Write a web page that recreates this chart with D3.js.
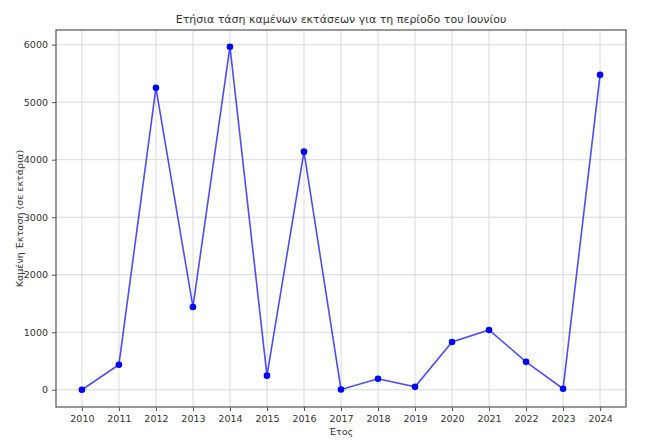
<!DOCTYPE html>
<html>
<head>
<meta charset="utf-8">
<script src="https://cdn.jsdelivr.net/npm/d3@7"></script>
<style>
  body { margin: 0; background: #fff; }
  text { font-family: "DejaVu Sans", sans-serif; fill: #333; }
</style>
</head>
<body>
<div class="chart"></div>
<script>
// Data
var years = [2010, 2011, 2012, 2013, 2014, 2015, 2016, 2017, 2018, 2019, 2020, 2021, 2022, 2023, 2024];
var burned = [0, 435, 5250, 1440, 5965, 245, 4140, 5, 190, 50, 830, 1040, 485, 17, 5475];
var yTicks = [0, 1000, 2000, 3000, 4000, 5000, 6000];

var svgWidth = 647;
var svgHeight = 445;
var margin = { top: 30, right: 21, bottom: 38, left: 56 };
var width = svgWidth - margin.left - margin.right;
var height = svgHeight - margin.top - margin.bottom;

var svg = d3
  .select(".chart")
  .append("svg")
  .attr("width", svgWidth)
  .attr("height", svgHeight);

var chart = svg.append("g")
  .attr("transform", "translate(" + margin.left + "," + margin.top + ")");

// Scales
var xScale = d3.scaleLinear().domain([2009.3, 2024.7]).range([0, width]);
var yScale = d3.scaleLinear().domain([-300, 6255]).range([height, 0]);

// Grid
chart.append("g")
  .selectAll("line")
  .data(years)
  .enter()
  .append("line")
  .attr("x1", function (d) { return xScale(d); })
  .attr("x2", function (d) { return xScale(d); })
  .attr("y1", 0)
  .attr("y2", height)
  .attr("stroke", "#d9d9d9")
  .attr("stroke-width", 1);

chart.append("g")
  .selectAll("line")
  .data(yTicks)
  .enter()
  .append("line")
  .attr("x1", 0)
  .attr("x2", width)
  .attr("y1", function (d) { return yScale(d); })
  .attr("y2", function (d) { return yScale(d); })
  .attr("stroke", "#d9d9d9")
  .attr("stroke-width", 1);

// Axes
var xAxis = d3.axisBottom(xScale).tickValues(years).tickFormat(d3.format("d")).tickSize(4).tickPadding(4);
var yAxis = d3.axisLeft(yScale).tickValues(yTicks).tickFormat(d3.format("d")).tickSize(4).tickPadding(4);

var gx = chart.append("g")
  .attr("transform", "translate(0," + height + ")")
  .call(xAxis);
var gy = chart.append("g").call(yAxis);

[gx, gy].forEach(function (g) {
  g.select(".domain").remove();
  g.selectAll(".tick line").attr("stroke", "#555");
  g.selectAll(".tick text").style("font-size", "9.5px").style("fill", "#333");
});

// Frame
chart.append("rect")
  .attr("width", width)
  .attr("height", height)
  .attr("fill", "none")
  .attr("stroke", "#555")
  .attr("stroke-width", 1.2);

// Line
var line = d3.line()
  .x(function (d, i) { return xScale(years[i]); })
  .y(function (d) { return yScale(d); });

chart.append("path")
  .datum(burned)
  .attr("d", line)
  .attr("fill", "none")
  .attr("stroke", "#0000ff")
  .attr("stroke-opacity", 0.7)
  .attr("stroke-width", 1.6);

chart.selectAll("circle")
  .data(burned)
  .enter()
  .append("circle")
  .attr("cx", function (d, i) { return xScale(years[i]); })
  .attr("cy", function (d) { return yScale(d); })
  .attr("r", 3.3)
  .attr("fill", "#0000ff");

// Labels
svg.append("text")
  .attr("x", margin.left + width / 2)
  .attr("y", 23)
  .attr("text-anchor", "middle")
  .style("font-size", "11px")
  .text("Ετήσια τάση καμένων εκτάσεων για τη περίοδο του Ιουνίου");

svg.append("text")
  .attr("x", margin.left + width / 2)
  .attr("y", 435)
  .attr("text-anchor", "middle")
  .style("font-size", "9.5px")
  .text("Έτος");

svg.append("text")
  .attr("transform", "rotate(-90)")
  .attr("x", -(margin.top + height / 2))
  .attr("y", 23)
  .attr("text-anchor", "middle")
  .style("font-size", "9.5px")
  .text("Καμένη Έκταση (σε εκτάρια)");
</script>
</body>
</html>
